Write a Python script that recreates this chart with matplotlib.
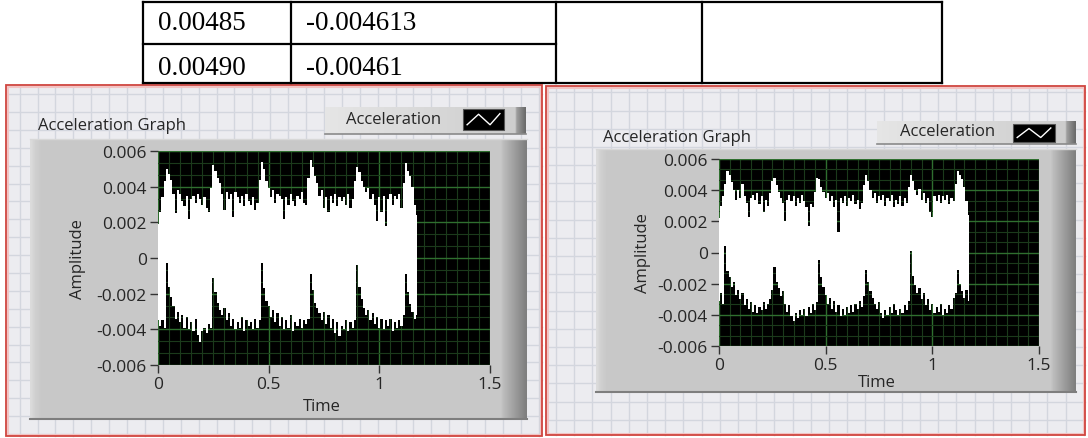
import numpy as np
import matplotlib
matplotlib.use('Agg')
import matplotlib.pyplot as plt
from matplotlib.patches import Rectangle
from matplotlib.ticker import MultipleLocator

W, H = 1088, 439

# table rows above the graphs
table_rows = [['0.00485', '-0.004613'],
              ['0.00490', '-0.00461']]
table_cols = [143, 291, 556, 702, 942]

# signal envelopes, sampled every 10 ms (units of 1e-3)
dt = 0.01
left_upper = [
    1.9, 2.6, 3.4, 4.3, 5.0, 4.7, 4.4, 3.6, 2.5, 3.8,
    3.6, 3.2, 2.9, 3.5, 2.2, 3.3, 3.5, 3.1, 3.6, 3.3,
    3.0, 3.4, 2.8, 2.6, 3.9, 5.2, 4.9, 4.5, 4.2, 3.6,
    2.7, 3.7, 3.3, 3.6, 2.3, 3.7, 3.4, 3.1, 3.5, 2.9,
    3.6, 3.2, 3.0, 3.4, 2.7, 3.1, 4.4, 5.4, 5.0, 4.3,
    3.9, 3.4, 3.8, 3.1, 3.6, 3.5, 3.3, 2.2, 3.4, 3.0,
    3.6, 3.2, 2.9, 3.5, 3.3, 3.7, 3.1, 3.0, 4.5, 5.5,
    5.1, 4.6, 4.2, 3.5, 3.8, 2.8, 3.4, 2.6, 3.5, 3.1,
    3.6, 2.9, 3.4, 3.2, 3.4, 3.0, 3.6, 2.8, 3.3, 4.3,
    5.1, 4.8, 4.3, 4.0, 3.7, 3.9, 3.3, 3.6, 3.0, 2.1,
    3.4, 2.6, 3.5, 1.8, 3.3, 3.6, 3.0, 3.5, 3.3, 3.6,
    2.8, 4.2, 5.3, 4.9, 4.6, 4.0, 3.0, 2.4]
left_lower = [
    -3.5, -3.8, -3.5, -3.9, -0.3, -1.6, -2.2, -2.7, -3.4, -3.0,
    -3.6, -3.2, -3.9, -3.3, -4.0, -3.6, -4.1, -3.4, -4.3, -4.7,
    -4.1, -3.9, -4.2, -3.7, -3.9, -1.1, -1.9, -2.5, -2.9, -3.2,
    -2.8, -3.5, -3.1, -3.8, -3.4, -4.0, -3.6, -3.9, -3.3, -4.1,
    -3.5, -3.8, -3.6, -4.0, -3.4, -3.9, -3.5, -0.3, -1.7, -2.4,
    -2.7, -3.3, -2.9, -3.6, -3.1, -3.8, -3.3, -4.0, -3.5, -3.9,
    -3.2, -4.1, -3.6, -3.8, -3.4, -3.9, -3.5, -3.7, -3.4, -0.9,
    -1.8, -2.5, -2.8, -3.1, -3.5, -3.0, -3.7, -3.2, -3.9, -3.4,
    -4.2, -3.6, -4.4, -3.8, -4.0, -3.5, -4.1, -3.6, -3.9, -3.5,
    -0.4, -1.6, -2.3, -2.8, -3.2, -2.9, -3.5, -3.1, -3.7, -3.3,
    -3.9, -3.4, -4.0, -3.5, -3.8, -3.4, -4.1, -3.6, -3.9, -3.5,
    -3.8, -3.2, -0.9, -1.9, -2.6, -3.0, -3.4, -3.2]
right_upper = [
    2.2, 3.0, 3.6, 4.4, 5.2, 5.0, 4.5, 4.0, 3.4, 4.0,
    3.5, 4.4, 3.6, 3.2, 2.3, 3.5, 3.7, 3.4, 3.8, 3.1,
    3.6, 2.6, 3.4, 3.0, 3.8, 4.6, 4.8, 4.3, 3.9, 3.5,
    3.2, 2.0, 3.4, 3.7, 3.3, 3.6, 3.0, 3.5, 3.2, 3.7,
    3.3, 2.9, 1.7, 3.1, 2.9, 3.9, 4.8, 4.7, 4.2, 3.9,
    3.5, 3.8, 3.3, 3.6, 2.9, 3.4, 1.3, 3.5, 3.2, 3.6,
    3.0, 3.5, 3.3, 3.7, 3.1, 3.4, 2.8, 3.2, 4.3, 5.0,
    4.6, 4.0, 3.5, 3.8, 3.2, 3.6, 3.4, 3.7, 3.0, 3.5,
    3.3, 3.7, 2.9, 3.4, 3.1, 3.6, 3.0, 3.5, 3.2, 4.2,
    5.0, 4.6, 4.0, 3.7, 4.1, 3.4, 3.8, 3.2, 3.5, 2.6,
    2.3, 3.6, 3.3, 3.7, 3.2, 3.6, 3.4, 3.7, 3.1, 3.5,
    3.3, 4.4, 5.2, 5.0, 4.7, 4.2, 3.3, 2.4]
right_lower = [
    -3.1, -2.6, -3.3, 0.4, -1.2, -1.6, -2.2, -1.9, -2.7, -2.4,
    -3.0, -2.6, -3.4, -3.0, -3.6, -3.2, -3.8, -3.4, -3.9, -3.5,
    -3.7, -3.2, -3.6, -3.3, -3.0, -2.4, -0.9, -1.9, -2.3, -2.8,
    -2.5, -3.3, -3.8, -3.4, -4.1, -4.4, -3.9, -4.2, -3.7, -4.0,
    -3.6, -4.1, -3.5, -3.9, -3.3, -3.7, -3.2, -0.5, -1.6, -2.2,
    -2.7, -3.3, -2.9, -3.6, -3.1, -3.8, -3.4, -4.1, -3.6, -4.0,
    -3.5, -3.9, -3.4, -3.8, -3.3, -3.6, -3.1, -3.5, -2.8, -1.1,
    -1.9, -2.5, -2.9, -3.3, -3.6, -3.2, -3.9, -4.2, -3.7, -4.0,
    -3.5, -3.9, -3.3, -3.7, -4.0, -3.6, -3.9, -3.4, -3.7, -3.1,
    0.1, -1.5, -2.1, -2.6, -2.3, -3.0, -2.6, -3.4, -3.0, -3.7,
    -3.3, -3.9, -3.5, -3.8, -3.3, -4.0, -3.6, -3.9, -3.4, -3.6,
    -2.9, -2.6, -1.1, -2.0, -2.5, -2.9, -2.4, -3.1]

y_ticks = [0.006, 0.004, 0.002, 0, -0.002, -0.004, -0.006]
y_tick_labels = ['0.006', '0.004', '0.002', '0', '-0.002', '-0.004', '-0.006']
x_ticks = [0, 0.5, 1, 1.5]
x_tick_labels = ['0', '0.5', '1', '1.5']

UI_FONT = ['Open Sans', 'DejaVu Sans']
UI_SIZE = 12
TXT = '#262626'

fig = plt.figure(figsize=(W / 100, H / 100), dpi=100)
fig.patch.set_facecolor('white')
bg = fig.add_axes([0, 0, 1, 1])
bg.set_autoscale_on(False)
bg.set_xlim(0, W)
bg.set_ylim(H, 0)
bg.axis('off')


def gradient(x0, y0, x1, y1, levels, horizontal=True, z=1):
    g = np.array(levels, dtype=float)
    img = np.repeat(g[:, None], 3, axis=1)
    img = img[None, :, :] if horizontal else img[:, None, :]
    bg.imshow(img, extent=(x0, x1, y1, y0), aspect='auto',
              interpolation='bilinear', zorder=z)


def px_axes(x0, y0, x1, y1):
    return fig.add_axes([x0 / W, 1 - y1 / H, (x1 - x0) / W, (y1 - y0) / H])


# --- table ---
lw_t = 1.6
bg.plot([table_cols[0], table_cols[-1]], [3, 3], color='black', lw=lw_t)
bg.plot([table_cols[0], table_cols[-1]], [84, 84], color='black', lw=lw_t)
bg.plot([table_cols[0], table_cols[2]], [44.5, 44.5], color='black', lw=lw_t)
for cx in table_cols:
    bg.plot([cx, cx], [3, 84], color='black', lw=lw_t)
for r, row in enumerate(table_rows):
    cy = 23.5 + 45 * r
    bg.text(158, cy, row[0], fontsize=19.5, family='Liberation Serif',
            va='center', ha='left', color='black')
    bg.text(306, cy, row[1], fontsize=19.5, family='Liberation Serif',
            va='center', ha='left', color='black')


def panel(box, gx0, gy0, step):
    x0, y0, x1, y1 = box
    bg.add_patch(Rectangle((x0, y0), x1 - x0, y1 - y0, facecolor='#ececf0',
                           edgecolor='none', zorder=0.5))
    x = gx0
    while x > x0:
        x -= step
    x += step
    while x < x1:
        bg.plot([x, x], [y0, y1], color='#d3d6de', lw=1, zorder=0.6)
        x += step
    y = gy0
    while y > y0:
        y -= step
    y += step
    while y < y1:
        bg.plot([x0, x1], [y, y], color='#d3d6de', lw=1, zorder=0.6)
        y += step
    bg.add_patch(Rectangle((x0 + 1.5, y0 + 1.5), x1 - x0 - 3, y1 - y0 - 3,
                           facecolor='none', edgecolor='#f2c4c4', lw=1.5, zorder=0.7))
    bg.add_patch(Rectangle((x0, y0), x1 - x0, y1 - y0, facecolor='none',
                           edgecolor='#d0453f', lw=1.3, zorder=0.8))


def frame(box):
    x0, y0, x1, y1 = box
    n = 200
    prof = np.full(n, 0.785)
    prof[:4] = [0.86, 0.83, 0.81, 0.80]
    k = 10
    prof[-k:] = np.linspace(0.74, 0.50, k)
    gradient(x0, y0, x1, y1, prof, True, z=1)
    bg.plot([x0, x1], [y1, y1], color='#7e7e7e', lw=1.5, zorder=1.2)
    bg.plot([x0, x1], [y0, y0], color='#d8d8d8', lw=1, zorder=1.2)


def legend(box, tx, icon):
    x0, y0, x1, y1 = box
    n = 120
    prof = np.linspace(0.90, 0.80, n)
    prof[-6:] = np.linspace(0.62, 0.42, 6)
    gradient(x0, y0, x1, y1, prof, True, z=1)
    bg.plot([x0, x1], [y1, y1], color='#8a8a8a', lw=1.2, zorder=1.2)
    bg.text(tx, (y0 + y1) / 2 - 1, 'Acceleration', family=UI_FONT,
            fontsize=UI_SIZE, color=TXT, va='center', ha='left', zorder=2)
    ix0, iy0, ix1, iy1 = icon
    bg.add_patch(Rectangle((ix0, iy0), ix1 - ix0, iy1 - iy0, facecolor='black',
                           edgecolor='#555555', lw=0.8, zorder=2))
    w, h = ix1 - ix0, iy1 - iy0
    px = [ix0 + w * f for f in (0.1, 0.38, 0.66, 0.9)]
    py = [iy0 + h * f for f in (0.75, 0.25, 0.75, 0.22)]
    bg.plot(px, py, color='white', lw=1.0, zorder=2.1)


def graph(plot_box, upper, lower, ylab_x, time_x, time_y):
    x0, y0, x1, y1 = plot_box
    ax = px_axes(x0, y0, x1, y1)
    ax.set_facecolor('black')
    t = np.arange(len(upper)) * dt
    ax.fill_between(t, np.array(lower) * 1e-3, np.array(upper) * 1e-3,
                    step='mid', color='white', lw=0, zorder=3)
    ax.set_xlim(0, 1.5)
    ax.set_ylim(-0.006, 0.006)
    ax.set_xticks(x_ticks)
    ax.set_xticklabels(x_tick_labels)
    ax.set_yticks(y_ticks)
    ax.set_yticklabels(y_tick_labels)
    ax.xaxis.set_minor_locator(MultipleLocator(0.05))
    ax.yaxis.set_minor_locator(MultipleLocator(0.002 / 3))
    ax.grid(True, which='major', color='#2f6f2f', lw=1.0, zorder=1)
    ax.grid(True, which='minor', color='#1b3a1b', lw=0.8, zorder=0.9)
    ax.set_axisbelow(True)
    ax.tick_params(which='minor', length=0)
    ax.tick_params(which='major', direction='out', length=5.5, width=1,
                   color='#333333', labelsize=12.5, labelcolor=TXT, pad=2.5)
    for lab in ax.get_xticklabels() + ax.get_yticklabels():
        lab.set_family(UI_FONT)
    for s in ax.spines.values():
        s.set_visible(False)
    bg.text(ylab_x, (y0 + y1) / 2, 'Amplitude', rotation=90, family=UI_FONT,
            fontsize=UI_SIZE, color=TXT, va='center', ha='center', zorder=2)
    bg.text(time_x, time_y, 'Time', family=UI_FONT, fontsize=UI_SIZE, color=TXT,
            va='center', ha='center', zorder=2)
    return ax


# left panel
panel((6, 86, 542, 437), 485, 95, 17.9)
frame((30, 140, 527, 420))
legend((325, 108, 526, 135), 346, (463, 110, 504, 131))
bg.text(38, 126, 'Acceleration Graph', family=UI_FONT, fontsize=UI_SIZE,
        color=TXT, va='center', ha='left', zorder=2)
graph((158, 152, 490, 366), left_upper, left_lower, 78, 322, 407)

# right panel
panel((546, 87, 1085, 436), 556, 93.3, 18.2)
frame((596, 150, 1076, 393))
legend((877, 122, 1076, 145), 900, (1013, 125, 1055, 143))
bg.text(603, 138, 'Acceleration Graph', family=UI_FONT, fontsize=UI_SIZE,
        color=TXT, va='center', ha='left', zorder=2)
graph((719, 160, 1039, 347), right_upper, right_lower, 643, 877, 383)

fig.savefig('out.png', dpi=100, facecolor='white')
